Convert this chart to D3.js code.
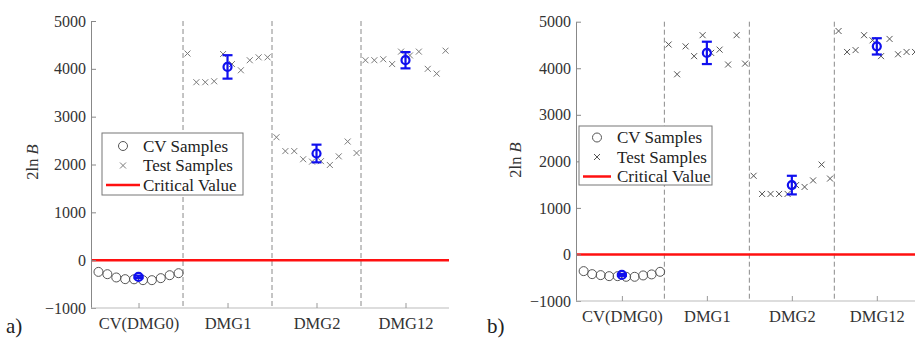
<!DOCTYPE html>
<html>
<head>
<meta charset="utf-8">
<script src="https://cdn.jsdelivr.net/npm/d3@7/dist/d3.min.js"></script>
<style>
  body { margin: 0; background: #fff; }
</style>
</head>
<body>
<script>
var categories = ["CV(DMG0)", "DMG1", "DMG2", "DMG12"];
var yTicks = [-1000, 0, 1000, 2000, 3000, 4000, 5000];
var criticalValue = 0;

// panel a) samples, ten per group
var cvA = [-245, -293, -362, -397, -400, -418, -418, -376, -314, -272];
var dmg1A = [4320, 3720, 3720, 3740, 4310, 4100, 3970, 4180, 4240, 4240];
var dmg2A = [2570, 2280, 2280, 2110, 2060, 2070, 1990, 2170, 2480, 2240];
var dmg12A = [4180, 4180, 4200, 4100, 4360, 4280, 4360, 4000, 3900, 4380];
var meanA = [-350, 4040, 2230, 4180];
var errA = [25, 245, 185, 170];

// panel b)
var cvB = [-358, -423, -444, -466, -466, -480, -480, -451, -429, -373];
var dmg1B = [4510, 3870, 4470, 4260, 4710, 4330, 4400, 4080, 4710, 4100];
var dmg2B = [1690, 1300, 1300, 1300, 1300, 1490, 1450, 1590, 1930, 1630];
var dmg12B = [4800, 4350, 4390, 4710, 4600, 4260, 4630, 4300, 4350, 4350];
var meanB = [-440, 4330, 1490, 4470];
var errB = [20, 240, 200, 175];

var W = 915, H = 338;
var FONT = "'Liberation Serif', 'Times New Roman', serif";
var svg = d3.select("body").append("svg")
  .attr("width", W).attr("height", H);
svg.append("rect").attr("width", W).attr("height", H).attr("fill", "#fff");

function offset(i) { return (i - 4.5) * 0.1; }

function drawPanel(p) {
  var x = d3.scaleLinear().domain([p.x0, 4.5]).range([p.left, p.rightFull]);
  var y = d3.scaleLinear().domain([-1000, 5000]).range([p.bottom, p.top]);
  var clipId = "clip" + p.name;
  svg.append("clipPath").attr("id", clipId).append("rect")
    .attr("x", p.left).attr("y", 0).attr("width", p.right - p.left).attr("height", H);
  var g = svg.append("g");
  var plot = g.append("g").attr("clip-path", "url(#" + clipId + ")");

  // group separators
  plot.selectAll(".sep").data([1.5, 2.5, 3.5]).enter().append("line")
    .attr("x1", d => x(d)).attr("x2", d => x(d))
    .attr("y1", p.top).attr("y2", p.bottom)
    .attr("stroke", "#8a8a8a").attr("stroke-width", 1)
    .attr("stroke-dasharray", "5,3");

  // axes
  var yAxis = d3.axisLeft(y).tickValues(yTicks).tickFormat(d3.format("d"))
    .tickSizeInner(-5).tickSizeOuter(0).tickPadding(5);
  var ya = g.append("g").attr("transform", "translate(" + p.left + ",0)").call(yAxis);
  ya.select(".domain").attr("stroke", "#888");
  ya.selectAll(".tick line").attr("stroke", "#888");
  ya.selectAll("text").attr("font-size", 16).attr("fill", "#333");

  var xAxis = d3.axisBottom(x).tickValues([1, 2, 3, 4]).tickFormat((d, i) => categories[i])
    .tickSizeInner(-5).tickSizeOuter(0).tickPadding(9);
  var xa = g.append("g").attr("transform", "translate(0," + p.bottom + ")").call(xAxis);
  xa.select(".domain").attr("stroke", "#bbb").attr("d", "M" + p.left + ",0H" + p.right);
  xa.selectAll(".tick line").attr("stroke", "#999");
  xa.selectAll("text").attr("font-size", 16.5).attr("fill", "#333");

  // critical value
  plot.append("line")
    .attr("x1", p.left).attr("x2", p.right)
    .attr("y1", y(criticalValue)).attr("y2", y(criticalValue))
    .attr("stroke", "#ff1010").attr("stroke-width", 2.5);

  // CV samples
  plot.selectAll(".cv").data(p.cv).enter().append("circle")
    .attr("cx", (d, i) => x(1 + offset(i)))
    .attr("cy", d => y(d))
    .attr("r", 4.5)
    .attr("fill", "none").attr("stroke", "#555").attr("stroke-width", 1);

  // test samples
  var s = 3;
  p.tests.forEach(function (arr, k) {
    arr.forEach(function (v, i) {
      var cx = x(k + 2 + offset(i)), cy = y(v);
      plot.append("path")
        .attr("d", "M" + (cx - s) + "," + (cy - s) + "L" + (cx + s) + "," + (cy + s) +
                   "M" + (cx - s) + "," + (cy + s) + "L" + (cx + s) + "," + (cy - s))
        .attr("stroke", p.xColor).attr("stroke-width", 1).attr("fill", "none");
    });
  });

  // means with error bars
  var mg = plot.append("g").attr("stroke", "#1010ee").attr("stroke-width", 2.2).attr("fill", "none");
  p.mean.forEach(function (m, i) {
    var cx = x(i + 1), e = p.err[i];
    mg.append("line").attr("x1", cx).attr("x2", cx).attr("y1", y(m + e)).attr("y2", y(m - e));
    mg.append("line").attr("x1", cx - 5).attr("x2", cx + 5).attr("y1", y(m + e)).attr("y2", y(m + e));
    mg.append("line").attr("x1", cx - 5).attr("x2", cx + 5).attr("y1", y(m - e)).attr("y2", y(m - e));
    mg.append("circle").attr("cx", cx).attr("cy", y(m)).attr("r", 4);
  });

  // y label
  var yl = g.append("text")
    .attr("transform", "translate(" + p.ylabelX + "," + p.ylabelY + ") rotate(-90)")
    .attr("text-anchor", "middle").attr("font-size", 16.5).attr("fill", "#333");
  yl.append("tspan").text("2ln ");
  yl.append("tspan").attr("font-style", "italic").text("B");

  // legend
  var L = p.legend;
  var lg = g.append("g");
  lg.append("rect").attr("x", L.x).attr("y", L.y).attr("width", L.w).attr("height", L.h)
    .attr("fill", "#fff").attr("stroke", "#777").attr("stroke-width", 1);
  var items = ["CV Samples", "Test Samples", "Critical Value"];
  items.forEach(function (t, i) {
    var cy = L.y + L.first + i * L.step;
    var mx = L.x + L.mark;
    if (i === 0) {
      lg.append("circle").attr("cx", mx).attr("cy", cy).attr("r", 4.5)
        .attr("fill", "none").attr("stroke", "#555");
    } else if (i === 1) {
      lg.append("path")
        .attr("d", "M" + (mx - s) + "," + (cy - s) + "L" + (mx + s) + "," + (cy + s) +
                   "M" + (mx - s) + "," + (cy + s) + "L" + (mx + s) + "," + (cy - s))
        .attr("stroke", p.xColor);
    } else {
      lg.append("line").attr("x1", L.x + 4).attr("x2", L.x + 2 * L.mark - 4)
        .attr("y1", cy).attr("y2", cy).attr("stroke", "#ff1010").attr("stroke-width", 2.5);
    }
    lg.append("text").attr("x", L.x + L.text).attr("y", cy + 5.5)
      .attr("font-size", 17).attr("fill", "#222").text(t);
  });

  svg.append("text").attr("x", p.tagX).attr("y", 333)
    .attr("font-size", 21).attr("fill", "#222").text(p.tag);
}

drawPanel({
  name: "a", x0: 0.466, left: 91, right: 449, rightFull: 450, top: 21, bottom: 308,
  cv: cvA, tests: [dmg1A, dmg2A, dmg12A], mean: meanA, err: errA,
  xColor: "#7a7a7a", ylabelX: 38, ylabelY: 162,
  legend: { x: 102, y: 133, w: 141, h: 62, first: 13, step: 19.5, mark: 21, text: 41 },
  tag: "a)", tagX: 6
});

drawPanel({
  name: "b", x0: 0.46, left: 576, right: 915, rightFull: 919.3, top: 21.7, bottom: 301,
  cv: cvB, tests: [dmg1B, dmg2B, dmg12B], mean: meanB, err: errB,
  xColor: "#555", ylabelX: 521, ylabelY: 160,
  legend: { x: 579, y: 126, w: 133, h: 59, first: 11.5, step: 19.5, mark: 18, text: 38 },
  tag: "b)", tagX: 487
});

// serif face for every label
svg.selectAll("text").style("font-family", FONT);
</script>
</body>
</html>
